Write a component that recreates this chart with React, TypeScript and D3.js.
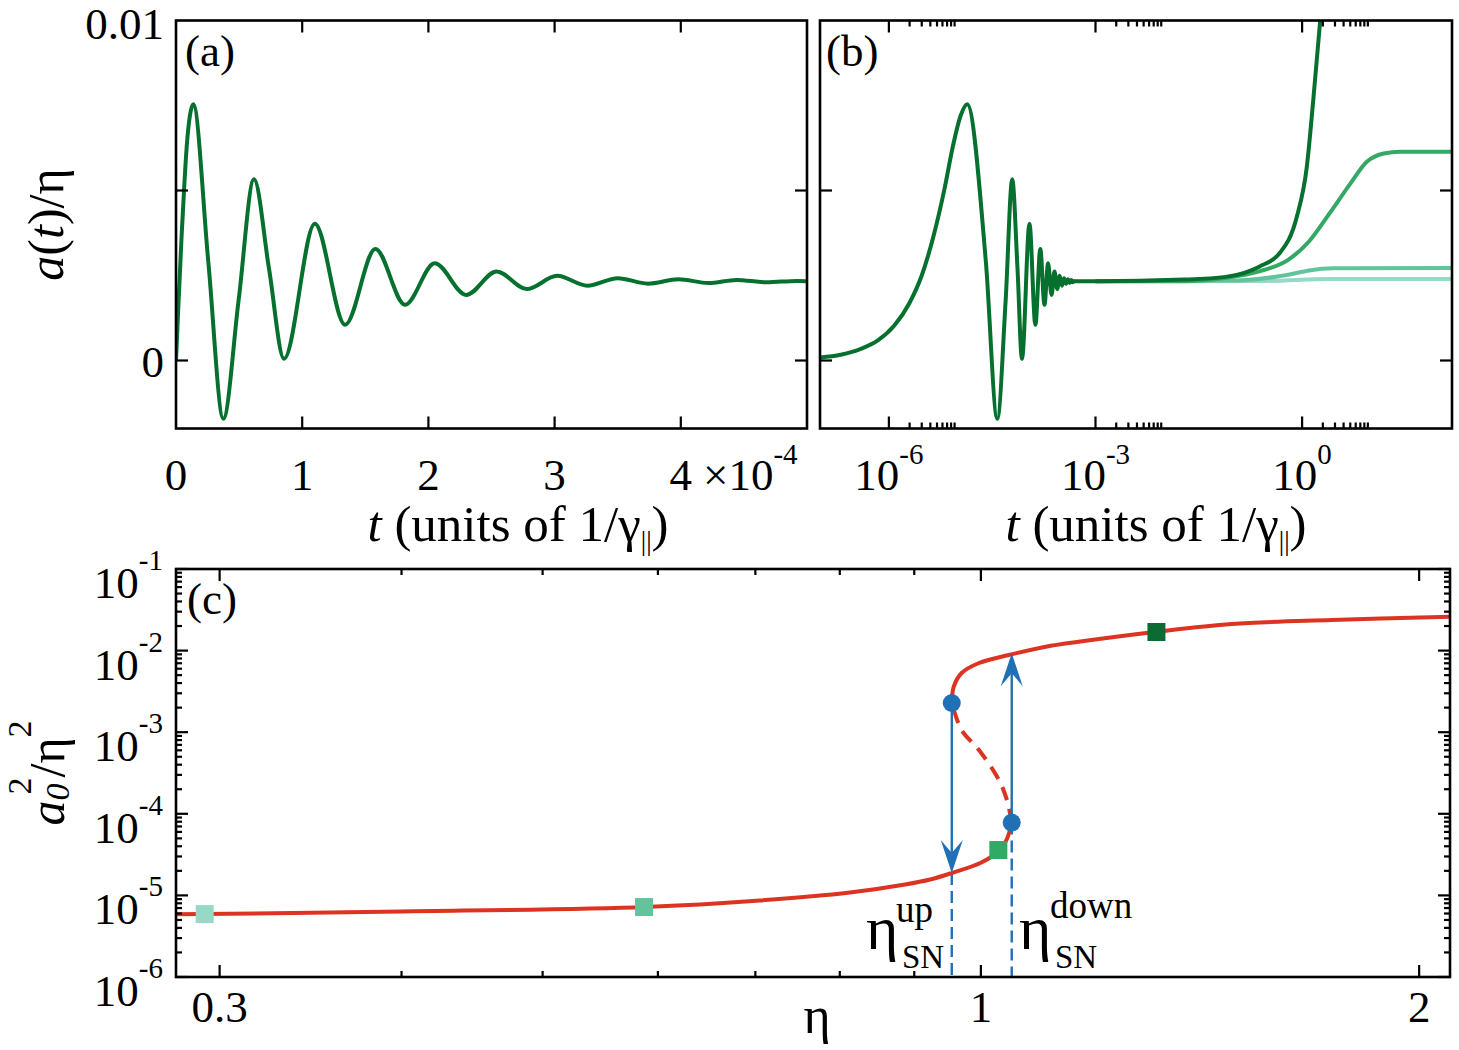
import React from "react";
import * as d3 from "d3";

// a(t)/η transient, t in units of 1/γ||
const transientT = [
  0, 1e-7, 2e-7, 4e-7, 7e-7, 1.2e-6, 2e-6, 3e-6, 4.5e-6, 6.5e-6, 8.5e-6, 1.1e-5,
  1.37e-5, 2.56e-5, 3.75e-5, 4.97e-5, 6.18e-5, 7.37e-5, 8.56e-5, 1.1e-4, 1.34e-4,
  1.58e-4, 1.815e-4, 2.05e-4, 2.3e-4, 2.54e-4, 2.78e-4, 3.02e-4, 3.26e-4, 3.5e-4,
  3.74e-4, 3.98e-4, 4.22e-4, 4.44e-4, 4.68e-4, 4.92e-4, 5e-4,
];
const transientA = [
  0, 0.00009, 0.00017, 0.00035, 0.0006, 0.00103, 0.0017, 0.0025, 0.0037, 0.0051,
  0.0063, 0.0072, 0.00754, 0.0029, -0.00171, 0.0018, 0.00533, 0.0027, 0.00005,
  0.00402, 0.00105, 0.00328, 0.00164, 0.00286, 0.00193, 0.00262, 0.0021, 0.00249,
  0.0022, 0.00242, 0.00226, 0.00239, 0.00228, 0.00237, 0.0023, 0.00234, 0.00233,
];

// long-time behaviour for the four pump strengths
const darkLateT = [1e-3, 0.0195, 0.078, 0.238, 0.477, 0.83, 1.17, 1.45, 1.83, 1.95];
const darkLateA = [0.00233, 0.00238, 0.00246, 0.00276, 0.00317, 0.0042, 0.0057, 0.00765, 0.01, 0.0107];
const medLateT = [1e-3, 0.0195, 0.078, 0.238, 0.627, 1.257, 2.51, 5.04, 8.77, 15.3, 26.6, 150];
const medLateA = [0.00233, 0.00233, 0.00243, 0.00262, 0.00296, 0.0035, 0.00433, 0.00521, 0.00585, 0.00609, 0.00614, 0.00614];
const lightLateT = [1e-3, 0.1, 0.157, 0.627, 1.257, 2.89, 150];
const lightLateA = [0.00233, 0.00235, 0.00237, 0.00252, 0.00265, 0.00271, 0.00272];
const paleLateT = [1e-3, 0.3, 2.5, 150];
const paleLateA = [0.00233, 0.00234, 0.0024, 0.0024];

// steady state a0^2/η^2 vs η
const lowerEta = [0.28, 0.4, 0.588, 0.705, 0.813, 0.887, 0.923, 0.955, 0.999, 1.029, 1.042, 1.05];
const lowerVal = [5.86e-6, 6.35e-6, 7.21e-6, 8.66e-6, 1.085e-5, 1.36e-5, 1.566e-5, 1.88e-5, 2.49e-5, 3.5e-5, 4.91e-5, 7.8e-5];
const unstableEta = [1.05, 1.042, 1.029, 0.997, 0.97, 0.955];
const unstableVal = [7.8e-5, 1.48e-4, 2.59e-4, 6.05e-4, 1.06e-3, 2.28e-3];
const upperEta = [0.955, 0.958, 0.97, 0.997, 1.045, 1.108, 1.167, 1.321, 1.487, 1.741, 2.1];
const upperVal = [2.28e-3, 3.61e-3, 5.31e-3, 7.05e-3, 8.83e-3, 1.117e-2, 1.285e-2, 1.706e-2, 2.12e-2, 2.37e-2, 2.6e-2];

const etaUp = 0.955;
const etaDown = 1.05;
const etaUpLow = 1.88e-5; // lower branch at η_up
const etaDownHigh = 9.3e-3; // upper branch at η_down
const foldVal = [2.28e-3, 7.8e-5];

const squareEta = [0.293, 0.587, 1.028, 1.32];
const squareVal = [5.9e-6, 7.2e-6, 3.6e-5, 1.69e-2];

const FONT = "'Liberation Serif', 'Times New Roman', Times, serif";
const DARK = "#06702f";
const MED = "#34a865";
const LIGHT = "#62c49c";
const PALE = "#97d8c6";
const RED = "#dd3322";
const BLUE = "#1f70b5";
const squareColors = [PALE, LIGHT, MED, "#0b6b33"];

const boxA = { l: 176, r: 807, t: 20.5, b: 428.5 };
const boxB = { l: 820, r: 1452, t: 20.5, b: 428.5 };
const boxC = { l: 176, r: 1450, t: 569, b: 977 };

type Box = typeof boxA;
type Pt = [number, number];

const zip = (a: number[], b: number[]): Pt[] => a.map((v, i) => [v, b[i]]);

const MAJ = 12;
const MIN = 6;

function XTicks({ box, xs, len }: { box: Box; xs: number[]; len: number }) {
  return (
    <g stroke="#000" strokeWidth={2.2}>
      {xs.map((x, i) => (
        <g key={i}>
          <line x1={x} x2={x} y1={box.b} y2={box.b - len} />
          <line x1={x} x2={x} y1={box.t} y2={box.t + len} />
        </g>
      ))}
    </g>
  );
}

function YTicks({ box, ys, len }: { box: Box; ys: number[]; len: number }) {
  return (
    <g stroke="#000" strokeWidth={2.2}>
      {ys.map((y, i) => (
        <g key={i}>
          <line x1={box.l} x2={box.l + len} y1={y} y2={y} />
          <line x1={box.r} x2={box.r - len} y1={y} y2={y} />
        </g>
      ))}
    </g>
  );
}

function Frame({ box }: { box: Box }) {
  return (
    <rect
      x={box.l}
      y={box.t}
      width={box.r - box.l}
      height={box.b - box.t}
      fill="none"
      stroke="#000"
      strokeWidth={2.6}
    />
  );
}

function arrowHead(x: number, y: number, dir: number) {
  // dir = 1 points down, -1 points up
  return `M${x},${y} L${x - 11},${y - 33 * dir} L${x},${y - 20 * dir} L${x + 11},${y - 33 * dir} Z`;
}

export default function App() {
  const xA = d3.scaleLinear().domain([0, 5e-4]).range([boxA.l, boxA.r]);
  const yA = d3.scaleLinear().domain([-0.002, 0.01]).range([boxA.b, boxA.t]);
  const xB = d3.scaleLog().domain([1e-7, 150]).range([boxB.l, boxB.r]);
  const yB = d3.scaleLinear().domain([-0.002, 0.01]).range([boxB.b, boxB.t]);
  const xC = d3.scaleLog().domain([0.28, 2.1]).range([boxC.l, boxC.r]);
  const yC = d3.scaleLog().domain([1e-6, 1e-1]).range([boxC.b, boxC.t]);

  const lineA = d3
    .line<Pt>()
    .x((d) => xA(d[0]))
    .y((d) => yA(d[1]))
    .curve(d3.curveMonotoneX);
  const lineB = d3
    .line<Pt>()
    .x((d) => xB(d[0]))
    .y((d) => yB(d[1]))
    .curve(d3.curveMonotoneX);
  const lineC = d3
    .line<Pt>()
    .x((d) => xC(d[0]))
    .y((d) => yC(d[1]))
    .curve(d3.curveCatmullRom.alpha(0.5));

  const transient = zip(transientT, transientA);
  const transientLog = transient.filter((d) => d[0] > 0);

  const lateSeries = [
    { pts: zip(paleLateT, paleLateA), color: PALE },
    { pts: zip(lightLateT, lightLateA), color: LIGHT },
    { pts: zip(medLateT, medLateA), color: MED },
  ];

  // tick positions
  const aXTicks = [1e-4, 2e-4, 3e-4, 4e-4].map((v) => xA(v));
  const aYTicks = [0, 0.005].map((v) => yA(v));
  const bMajor = [1e-6, 1e-3, 1];
  const bMinor = bMajor.flatMap((m) => d3.range(2, 10).map((k) => k * m));
  const cXMajor = [0.3, 1, 2];
  const cXMinor = [0.4, 0.5, 0.6, 0.7, 0.8, 0.9];
  const cYMajor = [1e-6, 1e-5, 1e-4, 1e-3, 1e-2, 1e-1];
  const cYMinor = cYMajor.slice(0, 5).flatMap((m) => d3.range(2, 10).map((k) => k * m));

  const supSize = 29;
  const tickSize = 45;
  const lw = 4;

  return (
    <svg
      width={1459}
      height={1050}
      style={{ position: "absolute", left: 0, top: 0 }}
      fontFamily={FONT}
    >
      <rect width={1459} height={1050} fill="#fff" />
      <defs>
        {[boxA, boxB, boxC].map((b, i) => (
          <clipPath id={`clip${i}`} key={i}>
            <rect x={b.l} y={b.t} width={b.r - b.l} height={b.b - b.t} />
          </clipPath>
        ))}
      </defs>

      {/* (a) linear time axis */}
      <g clipPath="url(#clip0)">
        <path d={lineA(transient) ?? ""} fill="none" stroke={DARK} strokeWidth={lw} />
      </g>
      <XTicks box={boxA} xs={aXTicks} len={MAJ} />
      <YTicks box={boxA} ys={aYTicks} len={MAJ} />
      <Frame box={boxA} />

      {/* (b) log time axis */}
      <g clipPath="url(#clip1)" fill="none">
        {lateSeries.map((s, i) => (
          <path key={i} d={lineB(s.pts) ?? ""} stroke={s.color} strokeWidth={lw} />
        ))}
        <path
          d={lineB([...transientLog, ...zip(darkLateT, darkLateA)]) ?? ""}
          stroke={DARK}
          strokeWidth={lw}
        />
      </g>
      <XTicks box={boxB} xs={bMajor.map((v) => xB(v))} len={MAJ} />
      <XTicks box={boxB} xs={bMinor.map((v) => xB(v))} len={MIN} />
      <YTicks box={boxB} ys={[0, 0.005].map((v) => yB(v))} len={MAJ} />
      <Frame box={boxB} />

      {/* (c) bifurcation diagram */}
      <g clipPath="url(#clip2)">
        <line
          x1={xC(etaUp)}
          x2={xC(etaUp)}
          y1={yC(etaUpLow)}
          y2={boxC.b}
          stroke={BLUE}
          strokeWidth={2.4}
          strokeDasharray="12,6"
        />
        <line
          x1={xC(etaDown)}
          x2={xC(etaDown)}
          y1={yC(foldVal[1])}
          y2={boxC.b}
          stroke={BLUE}
          strokeWidth={2.4}
          strokeDasharray="12,6"
        />
        <path d={lineC(zip(lowerEta, lowerVal)) ?? ""} fill="none" stroke={RED} strokeWidth={4} />
        <path d={lineC(zip(upperEta, upperVal)) ?? ""} fill="none" stroke={RED} strokeWidth={4} />
        <path
          d={lineC(zip(unstableEta, unstableVal)) ?? ""}
          fill="none"
          stroke={RED}
          strokeWidth={4}
          strokeDasharray="14,9"
        />
        {/* jumps at the saddle-node points */}
        <line
          x1={xC(etaUp)}
          x2={xC(etaUp)}
          y1={yC(foldVal[0])}
          y2={yC(etaUpLow) - 20}
          stroke={BLUE}
          strokeWidth={2.4}
        />
        <path d={arrowHead(xC(etaUp), yC(etaUpLow), 1)} fill={BLUE} />
        <line
          x1={xC(etaDown)}
          x2={xC(etaDown)}
          y1={yC(foldVal[1])}
          y2={yC(etaDownHigh) + 20}
          stroke={BLUE}
          strokeWidth={2.4}
        />
        <path d={arrowHead(xC(etaDown), yC(etaDownHigh), -1)} fill={BLUE} />
        <circle cx={xC(etaUp)} cy={yC(foldVal[0])} r={9} fill={BLUE} />
        <circle cx={xC(etaDown)} cy={yC(foldVal[1])} r={9} fill={BLUE} />
        {squareEta.map((e, i) => (
          <rect
            key={i}
            x={xC(e) - 9}
            y={yC(squareVal[i]) - 9}
            width={18}
            height={18}
            fill={squareColors[i]}
          />
        ))}
      </g>
      <XTicks box={boxC} xs={cXMajor.map((v) => xC(v))} len={MAJ} />
      <XTicks box={boxC} xs={cXMinor.map((v) => xC(v))} len={MIN} />
      <YTicks box={boxC} ys={cYMajor.map((v) => yC(v))} len={MAJ} />
      <YTicks box={boxC} ys={cYMinor.map((v) => yC(v))} len={MIN} />
      <Frame box={boxC} />

      {/* tick labels */}
      <g fontSize={tickSize} fill="#000">
        <text x={164} y={yA(0.01) + 18.5} textAnchor="end">0.01</text>
        <text x={164} y={yA(0) + 16} textAnchor="end">0</text>
        {[0, 1, 2, 3, 4].map((k) => (
          <text key={k} x={xA(k * 1e-4)} y={490} textAnchor="middle">
            {k}
          </text>
        ))}
        <text x={703} y={490}>
          ×10<tspan fontSize={supSize} dy={-26}>-4</tspan>
        </text>
        {bMajor.map((v, i) => (
          <text key={i} x={xB(v)} y={490} textAnchor="middle">
            10<tspan fontSize={supSize} dy={-26}>{String(Math.round(Math.log10(v)))}</tspan>
          </text>
        ))}
        {cXMajor.map((v, i) => (
          <text key={i} x={xC(v)} y={1022} textAnchor="middle">
            {String(v)}
          </text>
        ))}
        {cYMajor.map((v, i) => (
          <text key={i} x={163} y={yC(v) + 29} textAnchor="end">
            10<tspan fontSize={supSize} dy={-28}>{String(Math.round(Math.log10(v)))}</tspan>
          </text>
        ))}
      </g>

      {/* axis titles */}
      <g fontSize={50} fill="#000">
        <text transform={`translate(63,${(boxA.t + boxA.b) / 2}) rotate(-90)`} textAnchor="middle">
          <tspan fontStyle="italic">a</tspan>(<tspan fontStyle="italic">t</tspan>)/η
        </text>
        {[518, 1156].map((cx, i) => (
          <text key={i} x={cx} y={541} textAnchor="middle" fontSize={51}>
            <tspan fontStyle="italic">t</tspan> (units of 1/γ
            <tspan fontSize={27} dy={9}>||</tspan>
            <tspan dy={-9}>)</tspan>
          </text>
        ))}
        <text transform={`translate(64,${(boxC.t + boxC.b) / 2}) rotate(-90)`} textAnchor="middle">
          <tspan fontStyle="italic">a</tspan>
          <tspan fontStyle="italic" fontSize={34} dy={5}>0</tspan>
          <tspan fontSize={34} dx={-11} dy={-38}>2</tspan>
          <tspan dy={33}>/η</tspan>
          <tspan fontSize={34} dy={-33}>2</tspan>
        </text>
        <text x={(boxC.l + boxC.r) / 2 + 4} y={1033} fontSize={52} textAnchor="middle">
          η
        </text>
      </g>

      {/* panel tags */}
      <g fontSize={45} fill="#000">
        <text x={185} y={66}>(a)</text>
        <text x={826} y={66}>(b)</text>
        <text x={187} y={614}>(c)</text>
      </g>

      {/* saddle-node labels */}
      <g fill="#000">
        <text x={866} y={949} fontSize={62}>η</text>
        <text x={902} y={968} fontSize={33}>SN</text>
        <text x={896} y={922} fontSize={37}>up</text>
        <text x={1019} y={949} fontSize={62}>η</text>
        <text x={1055} y={968} fontSize={33}>SN</text>
        <text x={1050} y={918} fontSize={37}>down</text>
      </g>
    </svg>
  );
}
